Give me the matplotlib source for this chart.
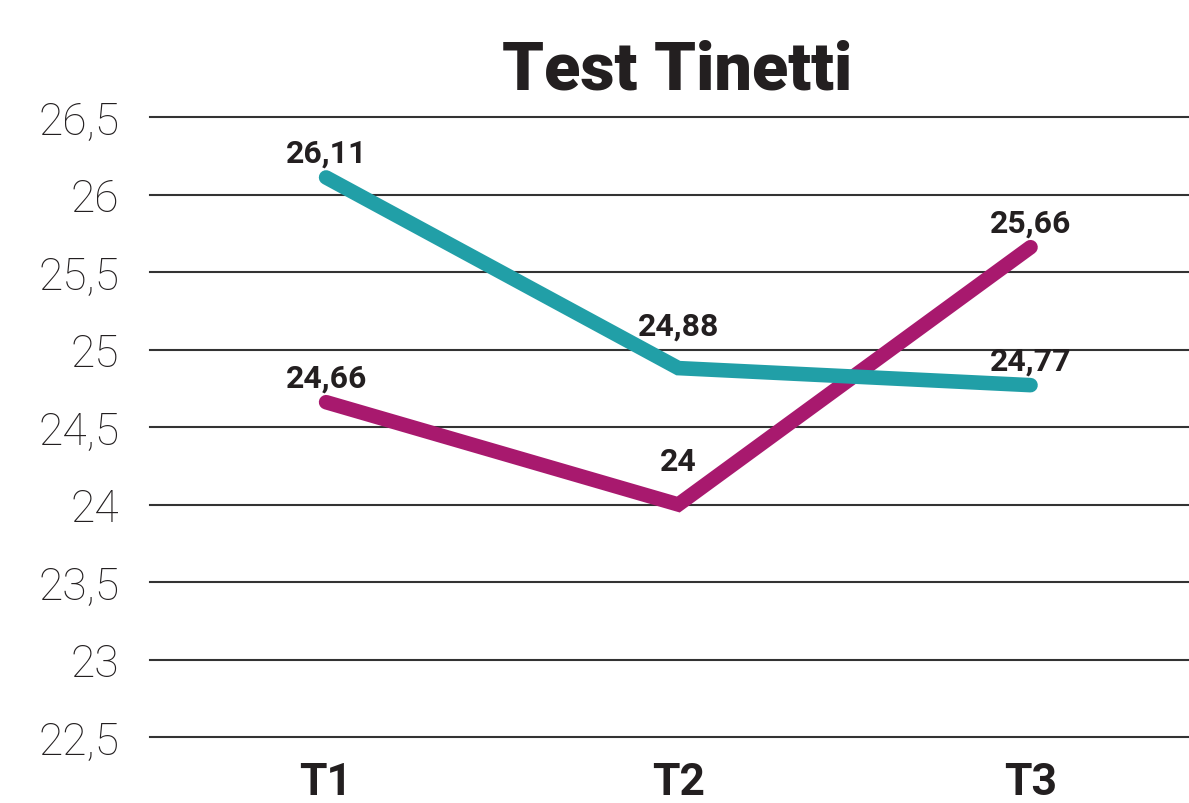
import matplotlib
matplotlib.use("Agg")
import matplotlib.pyplot as plt

periods = ["T1", "T2", "T3"]
teal_vals = [26.11, 24.88, 24.77]
magenta_vals = [24.66, 24.00, 25.66]
teal_labels = ["26,11", "24,88", "24,77"]
magenta_labels = ["24,66", "24", "25,66"]
yticks = [22.5, 23, 23.5, 24, 24.5, 25, 25.5, 26, 26.5]
ytick_labels = ["22,5", "23", "23,5", "24", "24,5", "25", "25,5", "26", "26,5"]

TEAL = "#219FA7"
MAGENTA = "#A8196E"
INK = "#231F20"

fig = plt.figure(figsize=(11.89, 8.04), dpi=100)
ax = fig.add_axes([150 / 1189, 66 / 804, 1 - 150 / 1189, (738 - 118) / 804])

x = list(range(len(periods)))
for yv in yticks:
    ax.axhline(yv, color="#333333", lw=1.5, zorder=1, clip_on=False)

ax.plot(x, magenta_vals, color=MAGENTA, lw=10.5, solid_capstyle="round",
        solid_joinstyle="miter", zorder=3)
ax.plot(x, teal_vals, color=TEAL, lw=10.5, solid_capstyle="round",
        solid_joinstyle="miter", zorder=4)

# label offsets (pixels above the point)
offs = [10, 28, 10]
for i in x:
    ax.annotate(teal_labels[i], (x[i], teal_vals[i]), xytext=(0, offs[i]),
                textcoords="offset pixels", ha="center", va="bottom",
                fontsize=23, fontweight="bold", family="Roboto", color=INK, zorder=5)
    ax.annotate(magenta_labels[i], (x[i], magenta_vals[i]), xytext=(0, offs[i]),
                textcoords="offset pixels", ha="center", va="bottom",
                fontsize=23, fontweight="bold", family="Roboto", color=INK, zorder=5)

ax.set_xlim(-0.5, 2.45)
ax.set_ylim(22.5, 26.5)
ax.set_xticks(x)
ax.set_xticklabels(periods, fontsize=32, fontweight="bold", family="Roboto", color=INK)
ax.set_yticks(yticks)
ax.set_yticklabels(ytick_labels, fontsize=32, fontweight="light", family="Roboto", color=INK)
ax.tick_params(axis="x", length=0, pad=17)
ax.tick_params(axis="y", length=0, pad=22)
for s in ax.spines.values():
    s.set_visible(False)

fig.text(677 / 1189, 1 - 71 / 804, "Test Tinetti", ha="center", va="center",
         fontsize=48, fontweight="black", family="Roboto", color=INK)

fig.savefig("out.png", dpi=100)
